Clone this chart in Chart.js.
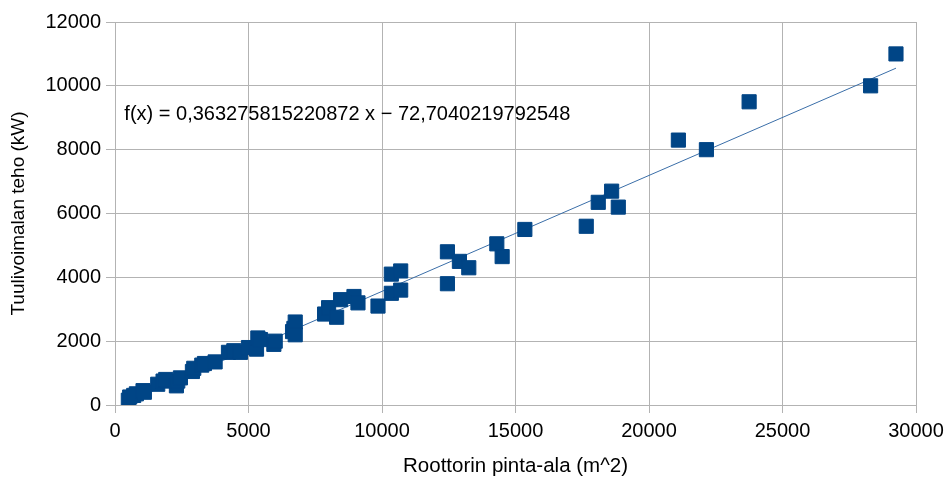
<!DOCTYPE html>
<html><head><meta charset="utf-8">
<script src="https://cdn.jsdelivr.net/npm/chart.js@4/dist/chart.umd.min.js"></script>
<style>html,body{margin:0;padding:0;background:#fff}</style>
</head><body>
<canvas id="c" width="950" height="479"></canvas>
<script>
// Rotor swept area (m^2)
const areaX = [500,550,700,800,1050,1100,1600,1800,1900,2300,2350,2450,2900,2950,3250,3350,3750,4250,4450,4700,5000,5300,5350,5450,5950,6000,6650,6700,6750,6750,7850,8000,8300,8450,8950,9100,9850,10350,10350,10700,10700,12450,12450,12900,13250,14300,14500,15350,17650,18100,18600,18850,21100,22150,23750,28300,29250];
// Turbine power (kW)
const powerY = [150,250,300,350,450,400,650,750,800,600,750,850,1050,1150,1250,1300,1350,1650,1700,1650,1800,1750,2100,2050,1900,2000,2300,2400,2600,2200,2850,3050,2750,3300,3400,3200,3100,3500,4100,3600,4200,3800,4800,4500,4300,5050,4650,5500,5600,6350,6700,6200,8300,8000,9500,10000,11000];
const xTicks = [0,5000,10000,15000,20000,25000,30000];
const yTicks = [0,2000,4000,6000,8000,10000,12000];
const slope = 0.363275815220872;
const intercept = -72.7040219792548;
const equationLabel = 'f(x) = 0,363275815220872 x \u2212 72,7040219792548';
const xTitle = 'Roottorin pinta-ala (m^2)';
const yTitle = 'Tuulivoimalan teho (kW)';

const points = areaX.map((x, i) => ({x: x, y: powerY[i]}));
const xMin = Math.min(...areaX), xMax = Math.max(...areaX);
const trend = [{x: xMin, y: slope * xMin + intercept}, {x: xMax, y: slope * xMax + intercept}];

const FONT = 'Liberation Sans';
const GRID = '#b3b3b3';

const equationPlugin = {
  id: 'equation',
  afterDatasetsDraw(chart) {
    const {ctx, scales: {x, y}} = chart;
    ctx.save();
    ctx.font = '20px "' + FONT + '"';
    ctx.fillStyle = '#000';
    ctx.textAlign = 'left';
    ctx.textBaseline = 'middle';
    ctx.fillText(equationLabel, x.getPixelForValue(350), y.getPixelForValue(9100));
    ctx.restore();
  }
};

new Chart(document.getElementById('c'), {
  type: 'scatter',
  data: {
    datasets: [
      {
        data: points,
        pointStyle: 'rect',
        pointRadius: 10,
        pointHoverRadius: 10,
        backgroundColor: '#004586',
        borderColor: '#004586',
        borderWidth: 1,
        order: 0
      },
      {
        type: 'line',
        data: trend,
        borderColor: '#3a6ea8',
        borderWidth: 1,
        pointRadius: 0,
        fill: false,
        order: 1
      }
    ]
  },
  options: {
    responsive: false,
    animation: false,
    devicePixelRatio: 1,
    layout: {padding: {top: 22, right: 34, left: 0, bottom: 0}},
    plugins: {legend: {display: false}, tooltip: {enabled: false}},
    scales: {
      x: {
        type: 'linear', min: 0, max: 30000,
        afterBuildTicks(s) { s.ticks = xTicks.map(v => ({value: v})); },
        afterFit(s) { s.height = 74; },
        grid: {color: GRID, lineWidth: 1, tickLength: 8, tickColor: GRID},
        border: {color: GRID},
        ticks: {font: {family: FONT, size: 20}, color: '#000', padding: 6, maxRotation: 0, callback: v => String(v)},
        title: {display: true, text: xTitle, font: {family: FONT, size: 20.5}, color: '#000', padding: {top: 0, bottom: 0}}
      },
      y: {
        type: 'linear', min: 0, max: 12000,
        afterBuildTicks(s) { s.ticks = yTicks.map(v => ({value: v})); },
        afterFit(s) { s.width = 115; },
        grid: {color: GRID, lineWidth: 1, tickLength: 9, tickColor: GRID},
        border: {color: GRID},
        ticks: {font: {family: FONT, size: 20}, color: '#000', padding: 5, callback: v => String(v)},
        title: {display: true, text: yTitle, font: {family: FONT, size: 19}, color: '#000', padding: {top: 7, bottom: 0}}
      }
    }
  },
  plugins: [equationPlugin]
});
</script>
</body></html>
